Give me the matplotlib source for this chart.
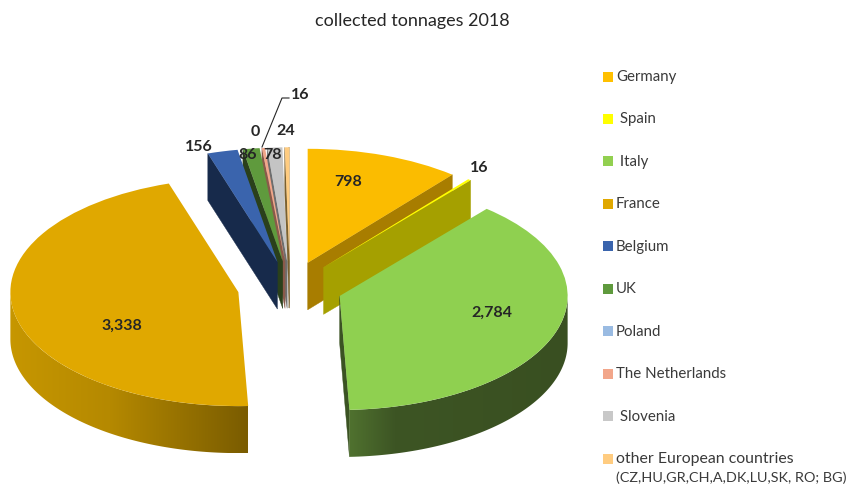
import numpy as np
import matplotlib
matplotlib.use('Agg')
import matplotlib.pyplot as plt
from matplotlib.colors import to_rgb
from matplotlib.patches import Rectangle, Polygon
from matplotlib.transforms import Affine2D

countries = ['Germany', ' Spain', ' Italy', 'France', 'Belgium', 'UK', 'Poland',
             'The Netherlands', ' Slovenia', 'other European countries']
other_note = '(CZ,HU,GR,CH,A,DK,LU,SK, RO; BG)'
tonnages = [798, 16, 2784, 3338, 156, 86, 0, 16, 78, 24]
value_labels = ['798', '16', '2,784', '3,338', '156', '86', '0', '16', '78', '24']
top_colors = ['#FBBC00', '#FFFF00', '#8FD050', '#E0A800', '#3A64AD',
              '#5F9A3D', '#9ABBE2', '#F2A68A', '#C4C4C4', '#FFCC80']
face_colors = ['#A87D00', '#A5A000', '#3B5323', '#A87D00', '#172A4B',
               '#2A401B', '#4A6280', '#8A5A4A', '#6E6E6E', '#7A6030']
legend_colors = ['#FFC000', '#FFFF00', '#92D050', '#E0A800', '#3A64AD',
                 '#5F9A3D', '#9ABBE2', '#F2A68A', '#C8C8C8', '#FFCC80']
# pixel position of each value label
label_x = [348, 479, 492, 122, 199, 248, 255, 300, 272, 286]
label_y = [182, 168, 313, 326, 147, 155, 132, 95, 155, 131]

W, H = 849, 488
CX, CY = 290, 287.5   # pie centre in pixels
RX, RY = 228, 114     # pixels per data unit
DEPTH = 47 / RY

plt.rcParams['font.family'] = ['Lato', 'DejaVu Sans']
fig = plt.figure(figsize=(W / 100, H / 100), dpi=100)
ax = fig.add_axes([0, 0, 1, 1])

wedges, _ = ax.pie(tonnages, colors=top_colors, explode=[0.23] * len(tonnages),
                   startangle=90, counterclock=False, radius=1)

# thin slices at the back first, then the big ones
order = [9, 8, 7, 6, 5, 4, 0, 1, 2, 3]
# wall shading by x pixel: (x stops, colours)
wall_shades = {2: ([349, 395, 570], ['#50722F', '#3D5524', '#394F21']),
               3: ([8, 110, 248], ['#C79700', '#B58900', '#7A5C00'])}


def wall_gradient(i, x0, x1):
    stops, cols = wall_shades[i]
    rgb = np.array([to_rgb(c) for c in cols])
    px = CX + np.linspace(x0, x1, 400) * RX
    return np.stack([np.interp(px, stops, rgb[:, k]) for k in range(3)], axis=1)[None, :, :]


for z, i in enumerate(order):
    w = wedges[i]
    w.set_zorder(10 + z * 2 + 1)
    w.set_linewidth(0)
    cx, cy = w.center
    # cut faces seen by the viewer
    for ang, seen in ((w.theta1, lambda c: c > 0), (w.theta2, lambda c: c < 0)):
        c, s = np.cos(np.radians(ang)), np.sin(np.radians(ang))
        if tonnages[i] > 0 and seen(c):
            ax.fill([cx, cx + c, cx + c, cx], [cy, cy + s, cy + s - DEPTH, cy - DEPTH],
                    color=face_colors[i], lw=0.3, zorder=10 + z * 2)
    # outer wall, only the front half of the circle shows
    if i in wall_shades:
        angs = np.radians(np.linspace(max(w.theta1, -180), min(w.theta2, 0), 200))
        top_x, top_y = cx + np.cos(angs), cy + np.sin(angs)
        verts = np.vstack([np.column_stack([top_x, top_y]),
                           np.column_stack([top_x[::-1], top_y[::-1] - DEPTH])])
        x0, x1 = top_x.min(), top_x.max()
        im = ax.imshow(wall_gradient(i, x0, x1),
                       extent=(x0, x1, verts[:, 1].min(), verts[:, 1].max()),
                       aspect='auto', zorder=10 + z * 2, interpolation='bilinear')
        im.set_clip_path(Polygon(verts, transform=ax.transData))

ax.set_aspect('auto')
ax.set_xlim(-CX / RX, (W - CX) / RX)
ax.set_ylim((CY - H) / RY, CY / RY)
ax.axis('off')

px = Affine2D().scale(1, -1).translate(0, H)

ax.text(412.5, 21, 'collected tonnages 2018', transform=px, ha='center', va='center',
        fontsize=13, color='#262626')

for x, y, t in zip(label_x, label_y, value_labels):
    ax.text(x, y, t, transform=px, ha='center', va='center', fontsize=11.5,
            fontweight='bold', color='#262626', zorder=50)
# leader line for the Netherlands
ax.plot([262, 282, 289], [147, 98, 98], transform=px, color='#262626', lw=0.8, zorder=50)

# legend
for k, (name, col) in enumerate(zip(countries, legend_colors)):
    y = 76 + k * 42.45
    ax.add_patch(Rectangle((603, y - 4.5), 10, 10, transform=px, facecolor=col, lw=0))
    ax.text(616, y - 6, name, transform=px, ha='left', va='top',
            fontsize=11.4 if k == 9 else 10.8, color='#3A3A3A')
ax.text(616, 471, other_note, transform=px, ha='left', va='top', fontsize=10.4, color='#3A3A3A')

fig.savefig('out.png', dpi=100)
